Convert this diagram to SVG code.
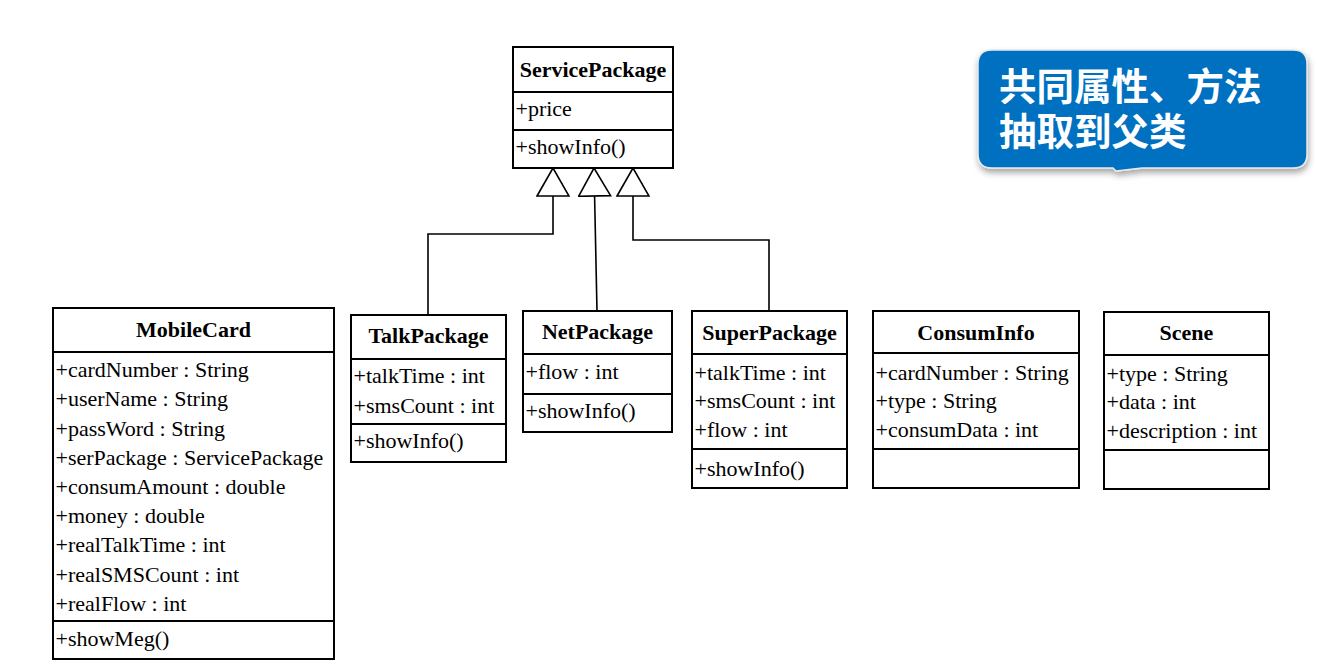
<svg xmlns="http://www.w3.org/2000/svg" width="1326" height="670" viewBox="0 0 1326 670">
<defs>
<style>
.box{fill:#fff;stroke:#000;stroke-width:2}
.div{stroke:#000;stroke-width:2}
.t{font-family:"Liberation Serif","Times New Roman",serif;font-size:22px;fill:#000}
.h{font-family:"Liberation Serif","Times New Roman",serif;font-size:22px;font-weight:bold;fill:#000;text-anchor:middle}
.conn{fill:none;stroke:#000;stroke-width:1.6}
.cj{font-family:"Noto Sans CJK SC","Noto Sans",sans-serif;font-size:37.5px;font-weight:bold;fill:#fff}
</style>
<marker id="inh" markerUnits="userSpaceOnUse" viewBox="-1 -1 30 34" refX="28" refY="16" markerWidth="30" markerHeight="34" orient="auto">
<path d="M0,0 L28,16 L0,32 Z" fill="#fff" stroke="#000" stroke-width="1.6"/>
</marker>
<filter id="sh" x="-10%" y="-10%" width="120%" height="130%">
<feDropShadow dx="1" dy="4" stdDeviation="3" flood-color="#000" flood-opacity="0.35"/>
</filter>
</defs>
<rect width="1326" height="670" fill="#fff"/>

<g id="connectors">
<path class="conn" d="M428,315 V234 H553 V168" marker-end="url(#inh)"/>
<path class="conn" d="M597,311 L594,168" marker-end="url(#inh)"/>
<path class="conn" d="M769,311 V240 H633 V168" marker-end="url(#inh)"/>
</g>

<g id="ServicePackage">
<rect class="box" x="513" y="47" width="160" height="121"/>
<line class="div" x1="513" y1="92" x2="673" y2="92"/>
<line class="div" x1="513" y1="130" x2="673" y2="130"/>
<text class="h" x="593" y="77">ServicePackage</text>
<text class="t" x="515.5" y="116">+price</text>
<text class="t" x="515.5" y="154">+showInfo()</text>
</g>

<g id="MobileCard">
<rect class="box" x="53" y="308" width="281" height="351"/>
<line class="div" x1="53" y1="352" x2="334" y2="352"/>
<line class="div" x1="53" y1="621" x2="334" y2="621"/>
<text class="h" x="193.5" y="337">MobileCard</text>
<text class="t" x="55.5" y="377">+cardNumber : String</text>
<text class="t" x="55.5" y="406">+userName : String</text>
<text class="t" x="55.5" y="435.5">+passWord : String</text>
<text class="t" x="55.5" y="464.5">+serPackage : ServicePackage</text>
<text class="t" x="55.5" y="494">+consumAmount : double</text>
<text class="t" x="55.5" y="523">+money : double</text>
<text class="t" x="55.5" y="552">+realTalkTime : int</text>
<text class="t" x="55.5" y="581.5">+realSMSCount : int</text>
<text class="t" x="55.5" y="610.5">+realFlow : int</text>
<text class="t" x="55.5" y="646">+showMeg()</text>
</g>

<g id="TalkPackage">
<rect class="box" x="351" y="315" width="155" height="147"/>
<line class="div" x1="351" y1="359" x2="506" y2="359"/>
<line class="div" x1="351" y1="424" x2="506" y2="424"/>
<text class="h" x="428.5" y="343">TalkPackage</text>
<text class="t" x="353.5" y="383">+talkTime : int</text>
<text class="t" x="353.5" y="413">+smsCount : int</text>
<text class="t" x="353.5" y="448">+showInfo()</text>
</g>

<g id="NetPackage">
<rect class="box" x="523" y="311" width="149" height="121"/>
<line class="div" x1="523" y1="354" x2="672" y2="354"/>
<line class="div" x1="523" y1="394" x2="672" y2="394"/>
<text class="h" x="597.5" y="339">NetPackage</text>
<text class="t" x="525.5" y="379">+flow : int</text>
<text class="t" x="525.5" y="418">+showInfo()</text>
</g>

<g id="SuperPackage">
<rect class="box" x="692" y="311" width="155" height="177"/>
<line class="div" x1="692" y1="354" x2="847" y2="354"/>
<line class="div" x1="692" y1="449" x2="847" y2="449"/>
<text class="h" x="769.5" y="340">SuperPackage</text>
<text class="t" x="694.5" y="380">+talkTime : int</text>
<text class="t" x="694.5" y="408">+smsCount : int</text>
<text class="t" x="694.5" y="437">+flow : int</text>
<text class="t" x="694.5" y="476">+showInfo()</text>
</g>

<g id="ConsumInfo">
<rect class="box" x="873" y="311" width="206" height="177"/>
<line class="div" x1="873" y1="353" x2="1079" y2="353"/>
<line class="div" x1="873" y1="449" x2="1079" y2="449"/>
<text class="h" x="976" y="340">ConsumInfo</text>
<text class="t" x="875.5" y="380">+cardNumber : String</text>
<text class="t" x="875.5" y="408">+type : String</text>
<text class="t" x="875.5" y="437">+consumData : int</text>
</g>

<g id="Scene">
<rect class="box" x="1104" y="312" width="165" height="177"/>
<line class="div" x1="1104" y1="355" x2="1269" y2="355"/>
<line class="div" x1="1104" y1="450" x2="1269" y2="450"/>
<text class="h" x="1186.5" y="340">Scene</text>
<text class="t" x="1106.5" y="381">+type : String</text>
<text class="t" x="1106.5" y="409">+data : int</text>
<text class="t" x="1106.5" y="438">+description : int</text>
</g>

<g id="callout">
<path d="M992,50 H1293 Q1307,50 1307,64 V154 Q1307,168 1293,168 H1142 L1116,171 L1113,168 H992 Q978,168 978,154 V64 Q978,50 992,50 Z" fill="#0070C0" stroke="#e8e8e8" stroke-width="1.5" filter="url(#sh)"/>
<text class="cj"><tspan x="999" y="100">共同属性、方法</tspan><tspan x="999" y="145">抽取到父类</tspan></text>
</g>
</svg>
